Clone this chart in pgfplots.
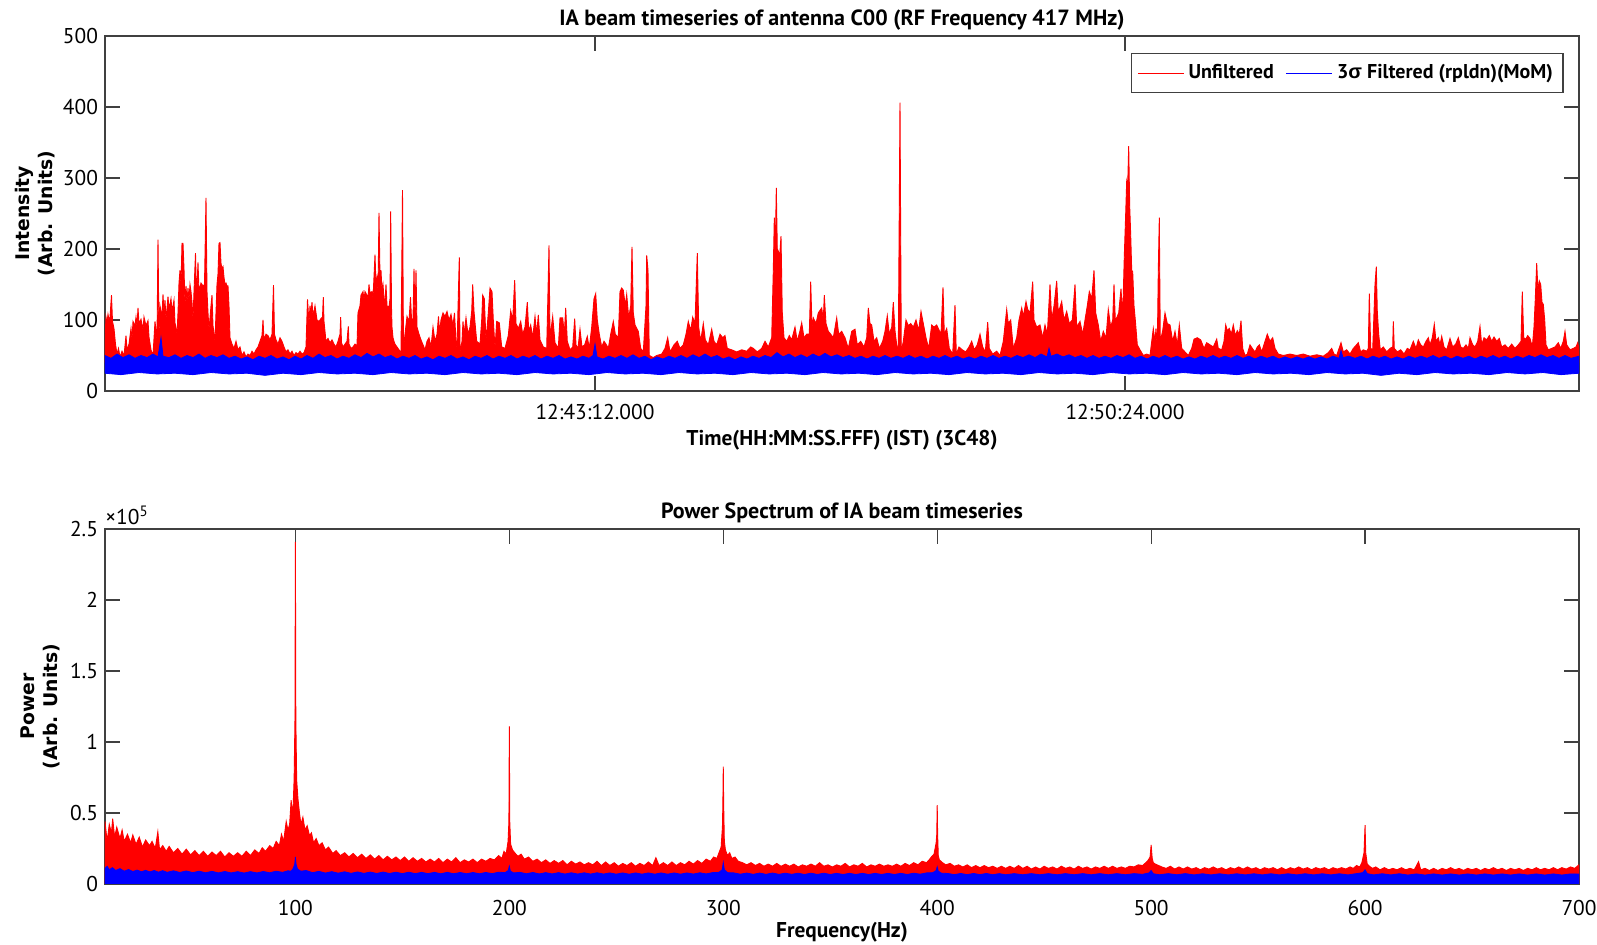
\documentclass[border=0pt]{standalone}
\usepackage{pgfplots}
\pgfplotsset{compat=1.18}
\usepackage{pgfplotstable}
\usepackage{fontspec}
\setmainfont{PT Sans}
\newfontfamily\labelfont{DejaVu Sans}
\newfontfamily\greekfont{Liberation Sans}

\definecolor{framegray}{gray}{0.25}

% ---------------- Time series (x: time bins from 12:36:33, 0.815 s each) ----------------
% Unfiltered intensity: upper envelope, closed along y = 40 (hidden under the filtered band)
\pgfplotstableread{
x y
0 72
1 104
2 96
3 108
4 100
5 104
6.5 135
7.5 98
9 88
10.5 66
12 52
13.5 60
15 48
17 56
19 50
21 78
22 58
24 66
26 88
27 72
28 98
30 92
31 104
32 90
33 117
34 95
36 101
38 86
39 104
41 92
43 99
44 76
46 58
48 50
50 98
52 72
53 213
54 78
55 120
57 105
58 136
59 110
60 128
61 100
63 133
64 115
66 130
67 112
69 128
70 96
72 80
73 110
74 152
75 170
76 150
77 208
78 208
79 172
80 120
81 148
82 125
83 145
84 128
85 150
86 140
87 125
88 100
89 140
90.5 194
91.5 130
93 181
94 140
96 152
98 148
99.5 150
101 272
102 140
103 110
104 86
106 120
107 135
108 92
110 70
112 150
113 165
114 208
115 209
116 180
117 172
118 175
119 160
120 150
121 152
122 148
123 148
124 120
125 75
127 66
129 60
131 70
133 58
135 62
137 50
139 55
141 48
143 52
145 50
147 56
149 52
151 58
153 62
155 70
157 78
158 100
159 72
161 80
163 78
165 72
167 80
168.5 149
169.5 80
171 72
173 66
175 75
177 70
179 62
181 55
183 58
185 52
187 56
189 50
191 54
193 52
195 56
197 52
199 54
201 62
202.5 129
204 95
205 120
206 110
207 125
208 105
210 120
212 100
214 98
216 102
217.5 104
218.3 132
219 98
221 70
223 74
225 68
227 72
229 66
231 62
233 70
235 80
235.7 104
236.5 68
238 62
240 66
242 70
243.3 91
244 66
246 60
248 62
250 66
252 64
253 110
255 120
256 135
258 140
259 128
260 140
262 135
263 130
264 150
265 138
267 140
268 130
270 192
271 150
272 160
273 140
274 251
275 160
276 170
277 140
278 150
279 130
280 125
281 150
282 120
284 118
285 130
285.7 253
286.5 118
287 90
288 75
289 70
290 66
292 62
294 58
296 54
297.5 283
298.5 60
300 80
302 105
304 98
305.5 132
306.5 102
308 100
309 172
310 100
311 170
312 90
314 80
316 72
318 65
320 58
322 70
324 75
326 62
328 90
330 70
332 80
333.5 105
334.5 82
336 100
338 110
340 105
342 112
344 100
346 108
348 92
349.5 110
351 70
352 60
354.3 188
355 55
357 70
358 98
359 80
361 103
363 80
365 90
366.7 112
367.7 150
369 112
371.7 70
375 66
376.7 100
377.7 135
379.3 130
381 70
383.3 110
385 145
387 140
388.3 100
390 60
391.7 98
394.3 96
396.7 62
400 60
403.3 78
405.7 113
407.7 100
409.7 156
411 95
413.3 88
415.7 98
417.7 80
420 90
422.3 125
423.7 85
425.7 93
427.7 75
430 105
431.7 80
433.3 107
435 72
438.3 62
441.7 60
443 140
444 205
445 75
447.7 105
450 68
453.3 60
455 103
457.7 103
459.3 80
460.7 117
462.3 70
465 58
467.7 62
469.7 102
471 65
473 60
475 87
477 62
479.7 65
482.3 77
484.3 60
486.7 90
489 130
490.7 137
492.3 100
494.3 80
496.7 62
499 70
501 66
503.3 60
505.7 80
508.3 98
510.3 80
513.3 75
515 140
516.7 145
518.3 142
520.3 120
521.7 136
523.7 103
525.7 120
527 203
528.3 110
530 93
533.3 84
535.7 60
538.3 55
541 120
541.7 191
543 170
544.3 50
548.3 47
551.7 50
556.7 52
560 60
562.7 75
565 55
569 65
572.3 70
575 60
578.3 65
581 80
583.3 98
585.7 85
587.7 104
590 95
592.3 194
593.7 90
595.7 70
598.3 95
600.3 72
603.3 65
606.7 87
609 70
611.7 65
615 80
617.7 75
620 78
622.3 60
626.7 58
631.7 55
636.7 58
641.7 56
645.7 62
648.3 60
652.3 55
656.7 60
660 70
663.3 62
666.7 75
668.3 170
669.3 244
670.3 200
671.3 286
672.3 200
673.3 197
674.7 190
676 218
677.3 110
679 75
681.7 70
684.3 78
686.7 72
690 90
692.3 70
695 85
696.7 96
699 75
701.7 80
704.3 80
705.7 154
707 90
708.3 103
711 95
713.3 110
716.7 117
718.3 100
719.3 135
721 95
723.3 84
725.7 80
728.3 75
731.7 103
733.7 80
736.7 84
740 75
743.3 60
746.7 84
750 87
752.3 65
755.7 70
759 62
761.7 75
763.3 117
765 95
766.7 93
769 70
771.7 75
774.3 60
777.7 70
780 84
782.3 106
784.3 80
786.7 90
788.3 125
790 85
791.7 65
793.3 55
795 406
796.3 55
798.3 70
801 100
803.3 92
805.7 95
808.3 90
811 100
813.7 85
816 112
818.3 95
821 75
823.7 60
826.7 93
829 90
831.7 93
834.3 85
836 80
838 146
839.3 80
841.7 88
844.3 60
847.7 52
850 121
851.3 52
854 62
857.3 58
860.7 55
864 62
866.7 70
869.3 58
872.3 65
875 80
877.7 62
880.3 55
882.7 97
884.3 60
887.7 52
891.7 56
895 50
898.3 70
901.7 115
903.3 95
905.7 100
908.3 60
911.7 75
914 100
916.7 117
918.3 105
921 126
922.7 115
925 110
927.7 154
929 100
931.7 90
935 93
937.7 75
940 93
942.3 80
945 150
946.7 100
949 120
951.7 155
953.3 110
956.7 126
959 100
961.7 112
964.3 95
967.3 100
970 150
971.7 90
975 98
977.7 80
980 100
982.3 120
984.3 140
986.7 130
989 170
990.7 110
993.3 93
995.7 70
998.3 84
1001 75
1003.3 115
1005.7 90
1007.7 100
1009 150
1010.3 100
1011.7 103
1013.7 110
1016 144
1017.7 105
1019.3 190
1020.7 250
1021.7 296
1022.7 290
1023.7 345
1024.7 260
1025.7 220
1026.7 170
1027.7 168
1029 120
1030.3 100
1032.3 65
1035 58
1038.3 50
1041.7 52
1045 50
1048.3 88
1050 70
1051 88
1052.3 60
1053.3 170
1054.3 244
1055.3 70
1057.7 85
1060 110
1062.3 95
1065 93
1067.7 70
1070 84
1072.3 65
1074.3 93
1076.7 60
1080 55
1083.3 50
1086.7 60
1089 73
1092.3 75
1095.7 72
1099 60
1101.7 68
1105 65
1108.3 62
1111.7 73
1113.3 60
1116.7 58
1119 70
1120.7 93
1122.3 85
1124.3 88
1126.3 80
1128.3 93
1130.3 78
1132.3 85
1134.3 80
1136 99
1137.7 60
1140 50
1142.3 52
1145 65
1147.3 60
1150 55
1152.3 62
1154.3 65
1156.7 55
1160 70
1162.3 80
1165 70
1167.7 75
1170 60
1173.3 52
1178.3 50
1185 52
1191.7 50
1198.3 52
1205 49
1211.7 51
1218.3 49
1223.3 54
1226.7 60
1229 52
1231.7 50
1236 68
1238.3 55
1241.7 58
1245 52
1248.3 60
1250.3 63
1253.3 68
1255.7 55
1258.3 58
1261.7 56
1263.3 60
1264.3 137
1265.7 60
1267.7 58
1269 110
1270 150
1271.3 175
1272.3 112
1273.7 80
1275.3 58
1278.3 62
1281.7 55
1285 60
1287.7 62
1288.3 98
1289.3 60
1292.3 55
1295.7 58
1299 52
1302.3 60
1305 58
1308.3 70
1311 60
1313.3 72
1315.7 65
1318.3 62
1321 70
1323.3 75
1325 65
1327.3 75
1329.3 94
1331 70
1333.3 75
1335 65
1336.7 77
1339 62
1341.7 58
1345 74
1347.7 62
1350.7 66
1353.3 75
1355.7 62
1358.3 60
1361 65
1363.3 60
1365 75
1367.7 65
1370 62
1372.7 70
1375 91
1376.7 65
1379 75
1381.7 72
1384.3 78
1386.7 70
1389 76
1391.7 70
1394.3 74
1396.7 62
1400 65
1403.3 60
1406.7 66
1410 60
1413.3 65
1416 70
1417.3 140
1418.7 75
1420.7 73
1422.7 78
1425 74
1427.3 62
1429 90
1430.3 130
1431.7 180
1433 140
1434.3 155
1435.7 150
1437 125
1438.3 122
1439.7 100
1441 65
1443.3 58
1446.7 60
1450 62
1453.3 68
1455.7 60
1458.3 70
1460 84
1461.7 65
1465 58
1468.3 60
1471 62
1472.7 68
1474 60
1474 40
0 40
}\tsunfilt

% 3-sigma filtered intensity: upper edge left to right, lower edge right to left
\pgfplotstableread{
x y
0 50
6 46
12 52
18 47
24 51
30 46
36 50
42 47
48 52
53 48
56 75
58 49
64 47
70 51
76 46
82 50
88 47
94 52
100 46
106 50
112 47
118 51
124 46
130 49
136 45
142 48
148 44
154 49
160 46
166 50
172 45
178 48
184 44
190 49
196 45
202 50
208 46
214 52
220 47
226 50
232 45
238 49
244 46
250 51
256 47
262 53
268 48
274 52
280 47
286 50
292 45
298 49
304 46
310 50
316 45
322 48
328 44
334 49
340 46
346 50
352 45
358 48
364 44
370 49
376 46
382 50
388 45
394 49
400 46
406 50
412 45
418 49
424 46
430 50
436 45
442 49
448 46
454 50
460 45
466 48
472 45
478 49
484 46
488 50
490 66
492 48
498 45
504 49
510 46
516 50
522 46
528 51
534 46
540 49
546 44
552 48
558 45
564 49
570 46
576 50
582 46
588 51
594 47
600 52
606 47
612 50
618 45
624 48
630 44
636 48
642 45
648 49
654 46
660 50
666 47
672 54
678 48
684 52
690 47
696 51
702 47
708 52
714 48
720 53
726 48
732 51
738 47
744 50
750 46
756 49
762 45
768 49
774 46
780 50
786 46
792 49
798 46
804 50
810 46
816 49
822 45
828 49
834 46
840 50
846 46
852 49
858 45
864 48
870 45
876 49
882 46
888 50
894 46
900 49
906 46
912 50
918 47
924 51
930 47
936 52
942 48
944 60
946 49
952 52
958 48
964 51
970 47
976 50
982 46
988 50
994 46
1000 49
1006 46
1012 50
1018 47
1024 51
1030 46
1036 49
1042 45
1048 49
1054 46
1060 50
1066 46
1072 49
1078 45
1084 48
1090 45
1096 49
1102 46
1108 50
1114 46
1120 49
1126 46
1132 50
1138 46
1144 49
1150 45
1156 49
1162 46
1168 49
1174 45
1180 48
1186 45
1192 48
1198 45
1204 48
1210 45
1216 48
1222 45
1228 49
1234 46
1236 57
1238 47
1244 49
1250 46
1256 49
1262 45
1268 49
1274 46
1280 49
1286 45
1292 48
1298 45
1304 49
1310 46
1316 49
1322 46
1328 50
1334 46
1340 49
1346 45
1352 49
1358 46
1364 49
1370 45
1376 49
1382 46
1388 50
1394 46
1400 49
1406 45
1412 49
1418 46
1424 50
1430 47
1436 51
1442 47
1448 50
1454 46
1460 50
1466 46
1474 49
1474 25
1456 23
1438 26
1420 24
1402 26
1384 23
1366 25
1348 24
1330 26
1312 23
1294 25
1276 22
1258 25
1240 24
1222 26
1204 23
1186 25
1168 24
1150 26
1132 23
1114 25
1096 24
1078 26
1060 23
1042 25
1024 24
1006 26
988 23
970 25
952 24
934 26
916 23
898 25
880 24
862 26
844 23
826 25
808 24
790 26
772 23
754 25
736 24
718 26
700 23
682 25
664 24
646 26
628 23
610 25
592 24
574 26
556 23
538 25
520 24
502 26
484 23
466 25
448 24
430 26
412 23
394 25
376 24
358 26
340 23
322 25
304 24
286 26
268 23
250 25
232 24
214 26
196 23
178 25
160 22
142 25
124 24
106 26
88 23
70 25
52 24
34 26
16 23
0 25
}\tsfilt

% ---------------- Power spectra (Hz, power) ----------------
\pgfplotstableread{
f p
11 44000
12 30000
13 42000
14 36000
14.6 46000
15.5 33000
16.5 40000
18 32000
19 38000
20 30000
21.5 35000
23 29000
24 34500
25.5 28000
27 33000
28.5 26000
30 31000
31.8 27000
33 30000
34.5 25000
35.7 36800
36.5 24000
38 27000
39.6 23000
41 26500
43 22000
45 25000
47 21000
49 24500
51 20500
53 23500
55 20000
57 23000
59 19500
61 22500
63 20000
65 23000
67 19000
69 22000
71 19500
73 22000
75 19500
77 23000
79 20000
81 24000
83 21500
84.5 25500
86 23000
88 27000
89.6 25000
91 30000
92.5 27000
93.5 35000
94.5 30000
95.7 44000
96.5 38000
97.3 42000
98 59000
98.8 48000
99.4 74000
99.8 116000
100 241000
100.2 116000
100.6 73000
101.2 60000
101.9 50000
102.6 42000
103.5 47000
104.5 38000
105.5 41000
106.6 34000
107.5 36000
108.5 29000
109.7 32000
111 27000
112.5 29000
114 24000
115.5 26000
117.5 21500
119 23500
121 20000
123 22000
125 19000
127 21500
129 18500
131 21000
133 18000
135 20500
137 17500
139 20000
141 17000
143 19500
145 17000
147 19000
149 16500
151 19000
153 16000
155 18500
157 16000
159 18000
161 15500
163 17500
165 15500
167 18000
169 15000
171 17500
173 15500
175 18500
177 15000
179 17000
181 15500
183 17500
185 15000
187 17500
189 16000
191 18000
193 17000
195 20000
196.5 18000
197.5 23000
198.5 21000
199.4 30000
199.8 44000
200 111000
200.2 44000
200.6 28000
201.5 24000
202.5 22000
204 19500
205.5 21000
207 17500
209 19000
211 16000
213 17500
215 15000
217 17000
219 14500
221 16500
223 14500
225 16500
227 13500
229 16000
231 14000
233 15500
235 13500
237 15000
239 13500
241 16000
243 13000
245 15500
247 13000
249 15000
251 12500
253 14500
255 13000
257 15000
259 12500
261 14500
263 13000
265 15500
267 13000
268.5 18500
270 13000
272 15000
274 13000
276 15500
278 13000
280 15000
282 13500
284 16000
286 14000
288 16500
290 14500
292 17500
294 16000
295.5 19000
297 18000
298 22000
299 26000
299.6 40000
299.8 55000
300 82600
300.2 55000
300.5 30000
301 24000
302 20000
303 22000
304 18000
305.5 19000
307 16000
309 15000
311 13500
313 15000
315 13000
317 14500
319 12500
321 14000
323 12500
325 14500
327 12500
329 14000
331 12500
333 14000
335 12000
337 13500
339 12500
341 14000
343 12500
345 15000
347 12500
349 13500
351 12000
353 13500
355 12500
357 14500
359 12000
361 13500
363 12500
365 14500
367 12000
369 13500
371 12500
373 14000
375 12500
377 13500
379 12500
381 14000
383 12500
385 14500
387 13000
389 15000
391 13500
393 16000
395 15000
396.5 17500
397.5 19500
398.5 21000
399.5 29000
399.8 35000
400 55600
400.2 35000
400.5 20000
401 17000
402.5 15000
404 13500
406 14500
408 12500
410 13500
412 12000
414 13500
416 11500
418 13000
420 11500
422 13000
424 11500
426 12500
428 11000
430 12500
432 11000
434 12500
436 11000
438 13000
440 11000
442 12500
444 10500
446 12000
448 10500
450 12500
452 11000
454 12000
456 10500
458 12500
460 11000
462 12000
464 10500
466 12500
468 11000
470 12000
472 10500
474 12000
476 11000
478 12500
480 11000
482 12500
484 11000
486 12000
488 11000
490 12500
492 12000
494 13500
496 13000
497.5 15000
498.5 16500
499.5 19000
500 27500
500.5 18000
501 15000
502 14000
503.5 13000
505 12000
507 11000
509 12500
511 10500
513 12000
515 10500
517 12000
519 10500
521 11500
523 10000
525 11500
527 10500
529 12000
531 10500
533 11500
535 10000
537 11500
539 10500
541 12000
543 10500
545 12000
547 10500
549 11500
551 10000
553 11500
555 10500
557 11500
559 10000
561 11500
563 10000
565 11500
567 10500
569 12000
571 10500
573 11500
575 10000
577 11500
579 10500
581 11500
583 10000
585 11500
587 10500
589 11500
591 10500
593 12000
594.5 11000
596 13000
597.5 12000
598.5 15000
599.5 22000
600 41500
600.3 22000
601 14000
602 12500
603.5 11000
605 12000
607 10000
609 11500
611 10000
613 11000
615 10000
617 11500
619 10000
621 11000
623 10000
625 15700
626 10000
628 11000
630 9500
632 11000
634 9500
636 11000
638 10000
640 11500
642 10000
644 11000
646 9500
648 11000
650 10000
652 11000
654 9500
656 11000
658 10000
660 11500
662 10000
664 11000
666 9500
668 11000
670 10000
672 11000
674 9500
676 11000
678 10000
680 11500
682 10000
684 11000
686 10000
688 11500
690 10000
692 11500
694 10500
696 12000
698 11000
700 13500
}\psunfilt

\pgfplotstableread{
f p
11 11000
12 12500
13 10000
14.5 11500
16 9500
18 10800
20 9000
22 10200
24 8800
26 9800
28 8600
30 9600
32 8500
34 9500
36 8300
38 9400
40 8200
43 9300
46 8100
49 9200
52 8000
55 9000
58 7900
61 8900
64 7800
67 8800
70 7800
73 8700
76 7700
79 8700
82 7800
85 8800
88 7900
91 9000
94 8200
96.5 9300
98 9000
99 11000
99.7 14000
100 19000
100.3 14000
101 10500
102.5 9000
105 9500
108 8000
111 8900
114 7700
117 8700
120 7600
123 8600
126 7500
129 8500
132 7500
135 8400
138 7400
141 8400
144 7400
147 8300
150 7300
153 8300
156 7300
159 8200
162 7300
165 8200
168 7200
171 8200
174 7200
177 8100
180 7200
183 8100
186 7200
189 8100
192 7300
195 8300
198 8000
199.5 9500
200 12500
200.5 9000
202 7800
205 8200
208 7200
211 8100
214 7100
217 8000
220 7100
223 8000
226 7000
229 7900
232 7000
235 7900
238 7000
241 7900
244 7000
247 7800
250 6900
253 7800
256 6900
259 7800
262 6900
265 7800
268 6900
271 7800
274 6900
277 7800
280 6900
283 7800
286 7000
289 7900
292 7100
295 8000
298 8200
299.5 10000
300 15000
300.5 10000
302 8000
305 7800
308 6900
311 7700
314 6800
317 7700
320 6800
323 7700
326 6800
329 7600
332 6800
335 7600
338 6700
341 7600
344 6700
347 7600
350 6700
353 7500
356 6700
359 7500
362 6700
365 7500
368 6700
371 7500
374 6700
377 7500
380 6700
383 7500
386 6700
389 7600
392 6900
395 7800
398 8000
399.5 9500
400 12000
400.5 9000
402 7600
405 7400
408 6600
411 7400
414 6600
417 7400
420 6600
423 7400
426 6500
429 7300
432 6500
436 7300
440 6500
444 7300
448 6500
452 7300
456 6500
460 7300
464 6500
468 7300
472 6500
476 7300
480 6500
484 7300
488 6500
492 7300
496 6800
499 7800
500 9500
501 7200
504 6500
508 7300
512 6500
516 7300
520 6400
524 7200
528 6400
532 7200
536 6400
540 7200
544 6400
548 7200
552 6400
556 7200
560 6400
564 7200
568 6400
572 7200
576 6400
580 7200
584 6400
588 7200
592 6400
596 7300
599 8000
600 10000
601 7300
604 6400
608 7200
612 6400
616 7200
620 6300
624 7100
628 6300
632 7100
636 6300
640 7100
644 6300
648 7100
652 6300
656 7100
660 6300
664 7100
668 6300
672 7100
676 6300
680 7100
684 6300
688 7100
692 6300
696 7100
700 7000
}\psfilt

\pgfplotsset{
  matlabaxis/.style={
    scale only axis, width=737pt, height=177.5pt,
    anchor=south west,
    axis line style={framegray, line width=0.6pt},
    every tick/.style={framegray, line width=0.6pt},
    major tick length=7.3pt,
    tick align=inside, xtick pos=both, ytick pos=both,
    font=\fontsize{10.7}{12.8}\selectfont,
    /pgf/number format/assume math mode=true,
    every axis title/.style={font=\fontsize{11}{13}\selectfont\bfseries,
      at={(axis description cs:0.5,1)}, anchor=center, yshift=8pt},
    xticklabel style={yshift=-3pt},
    every axis x label/.style={at={(axis description cs:0.5,0)}, anchor=center, yshift=-24.5pt,
      font=\fontsize{10.7}{12.8}\selectfont\bfseries},
  },
}

\begin{document}
\begin{tikzpicture}
\useasboundingbox (0,0) rectangle (798.5pt,472.5pt);

% ---------- upper panel: intensity time series ----------
\begin{axis}[
  matlabaxis,
  at={(52.5pt,277pt)},
  xmin=0, xmax=1474, ymin=0, ymax=500,
  xtick={490,1020},
  xticklabels={12:43:12.000,12:50:24.000},
  ytick={0,100,...,500},
  title={IA beam timeseries of antenna C00 (RF Frequency 417 MHz)},
  xlabel={Time(HH:MM:SS.FFF) (IST) (3C48)},
  every axis y label/.style={at={(axis description cs:-0.0475,0.5)}, rotate=90, anchor=center,
    align=center, font=\labelfont\bfseries\fontsize{9.4}{11.5}\selectfont},
  ylabel={Intensity\\(Arb. Units)},
  legend style={at={(axis description cs:0.9895,0.952)}, anchor=north east,
    draw=framegray, line width=0.6pt, font=\fontsize{10}{12}\selectfont\bfseries,
    inner xsep=3pt, inner ysep=3.5pt,
    /tikz/every even column/.append style={column sep=4pt}},
  legend columns=2,
  legend image code/.code={\draw[#1, line width=0.6pt] (0pt,0pt) -- (23pt,0pt);},
]
\addplot[forget plot, draw=red, fill=red, line width=0.45pt, line join=miter]
  table[x=x, y=y] {\tsunfilt} -- cycle;
\addplot[forget plot, draw=blue, fill=blue, line width=0.4pt]
  table[x=x, y=y] {\tsfilt} -- cycle;
\addlegendimage{red}
\addlegendentry{Unfiltered}
\addlegendimage{blue}
\addlegendentry{3{\greekfont σ} Filtered (rpldn)(MoM)}
\end{axis}

% ---------- lower panel: power spectrum ----------
\begin{axis}[
  matlabaxis,
  at={(52.5pt,30.5pt)},
  xmin=11, xmax=700, ymin=0, ymax=250000,
  xtick={100,200,...,700},
  ytick={0,50000,100000,150000,200000,250000},
  scaled y ticks=base 10:-5,
  ytick scale label code/.code={×10\textsuperscript{5}},
  every y tick scale label/.style={at={(axis description cs:0,1)}, anchor=south west,
    inner sep=0pt, yshift=2pt},
  xticklabel style={yshift=-1.5pt},
  title={Power Spectrum of IA beam timeseries},
  xlabel={Frequency(Hz)},
  every axis x label/.style={at={(axis description cs:0.5,0)}, anchor=center, yshift=-24pt,
    font=\fontsize{10.7}{12.8}\selectfont\bfseries},
  every axis y label/.style={at={(axis description cs:-0.0438,0.5)}, rotate=90, anchor=center,
    align=center, font=\labelfont\bfseries\fontsize{9.4}{11.5}\selectfont},
  ylabel={Power\\(Arb. Units)},
]
\addplot[draw=red, fill=red, line width=0.45pt] table[x=f, y=p] {\psunfilt} \closedcycle;
\addplot[draw=blue, fill=blue, line width=0.4pt] table[x=f, y=p] {\psfilt} \closedcycle;
\end{axis}
\end{tikzpicture}
\end{document}
